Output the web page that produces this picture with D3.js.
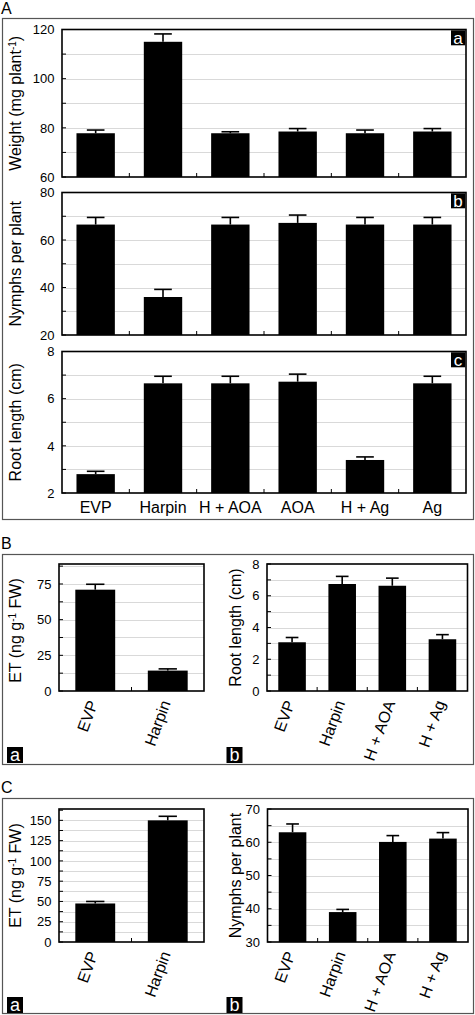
<!DOCTYPE html>
<html><head><meta charset="utf-8">
<script src="https://cdn.jsdelivr.net/npm/d3@7"></script>
<style>
body{margin:0;background:#fff;}
text{font-family:"Liberation Sans",Arial,Helvetica,sans-serif;}
</style></head><body>
<svg id="chart" width="475" height="1015"></svg>
<script>
// ---------- DATA ----------
const catsA = ["EVP", "Harpin", "H + AOA", "AOA", "H + Ag", "Ag"];
const weightMean = [77.8, 115, 77.8, 78.5, 77.8, 78.5];
const weightErr  = [1.3, 3.2, 0.6, 1.2, 1.3, 1.2];
const weightTicks = [60, 80, 100, 120];

const nymphsAMean = [66.5, 36, 66.5, 67.2, 66.5, 66.5];
const nymphsAErr  = [3, 3.2, 3, 3.3, 3, 3];
const nymphsATicks = [20, 40, 60, 80];

const rootAMean = [2.8, 6.65, 6.65, 6.72, 3.4, 6.65];
const rootAErr  = [0.12, 0.3, 0.3, 0.32, 0.13, 0.3];
const rootATicks = [2, 4, 6, 8];

const catsET = ["EVP", "Harpin"];
const etBMean = [71, 14.3];
const etBErr  = [3.8, 1.2];
const etBTicks = [0, 25, 50, 75];

const catsB = ["EVP", "Harpin", "H + AOA", "H + Ag"];
const rootBMean = [3.07, 6.74, 6.63, 3.26];
const rootBErr  = [0.3, 0.48, 0.48, 0.29];
const rootBTicks = [0, 2, 4, 6, 8];

const etCMean = [47.5, 150];
const etCErr  = [2.5, 5];
const etCTicks = [0, 25, 50, 75, 100, 125, 150];

const nymphsCMean = [63, 39, 60.1, 61.1];
const nymphsCErr  = [2.5, 0.8, 1.9, 1.8];
const nymphsCTicks = [30, 40, 50, 60, 70];

// ---------- DRAWING ----------
const svg = d3.select("#chart");
svg.append("rect").attr("width", 475).attr("height", 1015).attr("fill", "#fff");

const panels = [
  {label: "A", y0: 18.5, y1: 519.5, ly: 14},
  {label: "B", y0: 554.5, y1: 764.5, ly: 548.5},
  {label: "C", y0: 798.5, y1: 1013.5, ly: 793}
];
panels.forEach(p => {
  svg.append("rect").attr("x", 2.5).attr("y", p.y0).attr("width", 471).attr("height", p.y1 - p.y0)
    .attr("fill", "none").attr("stroke", "#555").attr("stroke-width", 1.2);
  svg.append("text").attr("x", 1).attr("y", p.ly).attr("font-size", 16).attr("fill", "#000").text(p.label);
});

function letterBox(x, y, w, h, ch, fs) {
  svg.append("rect").attr("x", x).attr("y", y).attr("width", w).attr("height", h).attr("fill", "#000");
  svg.append("text").attr("x", x + w / 2).attr("y", y + h / 2).attr("dy", "0.36em")
    .attr("text-anchor", "middle").attr("font-size", fs).attr("fill", "#fff").text(ch);
}

function drawPlot(o) {
  const g = svg.append("g");
  const x = d3.scaleBand().domain(o.cats).range([o.left, o.right])
    .paddingInner(o.pad).paddingOuter(o.pad / 2);
  const y = d3.scaleLinear().domain(o.domain).range([o.bottom, o.top]);
  const minor = d3.range(o.domain[0], o.domain[1] + 1e-9, o.minorStep);

  // gridlines
  g.append("g").selectAll("line")
    .data(minor.filter(v => v > o.domain[0] && y(v) > o.top + 1.5))
    .join("line")
    .attr("x1", o.left).attr("x2", o.right)
    .attr("y1", d => Math.round(y(d)) + 0.5).attr("y2", d => Math.round(y(d)) + 0.5)
    .attr("stroke", "#d9d9d9").attr("stroke-width", 1);

  // inward ticks on y axis
  g.append("g").selectAll("line").data(minor).join("line")
    .attr("x1", o.left).attr("x2", o.left + 4)
    .attr("y1", d => y(d)).attr("y2", d => y(d))
    .attr("stroke", "#000").attr("stroke-width", 1);

  // bars
  const bw = x.bandwidth();
  g.append("g").selectAll("rect").data(o.cats).join("rect")
    .attr("x", d => x(d)).attr("width", bw)
    .attr("y", (d, i) => y(o.mean[i]))
    .attr("height", (d, i) => o.bottom - y(o.mean[i]))
    .attr("fill", "#000");

  // error bars (upper only)
  const eg = g.append("g").attr("stroke", "#000").attr("stroke-width", 1.6);
  o.cats.forEach((c, i) => {
    const cx = x(c) + bw / 2;
    const yt = y(o.mean[i] + o.err[i]);
    eg.append("line").attr("x1", cx).attr("x2", cx).attr("y1", y(o.mean[i])).attr("y2", yt);
    eg.append("line").attr("x1", cx - bw * 0.23).attr("x2", cx + bw * 0.23).attr("y1", yt).attr("y2", yt);
  });

  // x boundary ticks
  g.append("g").selectAll("line").data(d3.range(1, o.cats.length)).join("line")
    .attr("x1", i => o.left + i * x.step()).attr("x2", i => o.left + i * x.step())
    .attr("y1", o.bottom).attr("y2", o.bottom - 4)
    .attr("stroke", "#000").attr("stroke-width", 1);

  // frame
  g.append("rect").attr("x", o.left).attr("y", o.top)
    .attr("width", o.right - o.left).attr("height", o.bottom - o.top)
    .attr("fill", "none").attr("stroke", "#000").attr("stroke-width", 1.6);

  // y labels
  const ya = g.append("g").attr("transform", `translate(${o.left},0)`)
    .call(d3.axisLeft(y).tickValues(o.ticks).tickFormat(d3.format("d")).tickSize(0).tickPadding(7.5));
  ya.select(".domain").remove();
  ya.selectAll("text").attr("font-size", 13).attr("fill", "#000");

  // x labels
  if (o.showX) {
    const xa = g.append("g").attr("transform", `translate(0,${o.bottom})`)
      .call(d3.axisBottom(x).tickSize(0).tickPadding(8.5));
    xa.select(".domain").remove();
    const xt = xa.selectAll("text").attr("font-size", 16).attr("fill", "#000");
    if (o.rotate) {
      xt.attr("y", 0).attr("dy", "0").attr("text-anchor", "end")
        .attr("transform", "translate(3,12) rotate(-70)");
    }
  }

  // y title
  const ty = (o.top + o.bottom) / 2 + (o.titleShift || 0);
  const t = g.append("text").attr("font-size", 16).attr("fill", "#000")
    .attr("text-anchor", "middle")
    .attr("transform", `translate(${o.titleX},${ty}) rotate(-90)`);
  o.title.forEach(part => {
    const ts = t.append("tspan").text(part.t);
    if (part.sup) ts.attr("font-size", 10).attr("baseline-shift", "super");
  });

  // letter box
  if (o.letterTR) letterBox(o.right - 15, o.top + 0.8, 14.2, 15, o.letterTR, 17);
}

// Panel A
drawPlot({cats: catsA, mean: weightMean, err: weightErr, ticks: weightTicks, domain: [60, 120], minorStep: 10,
  left: 62, right: 466, top: 29.5, bottom: 177, pad: 0.43, titleX: 21,
  title: [{t: "Weight (mg plant"}, {t: "-1", sup: true}, {t: ")"}], letterTR: "a", showX: false});
drawPlot({cats: catsA, mean: nymphsAMean, err: nymphsAErr, ticks: nymphsATicks, domain: [20, 80], minorStep: 10,
  left: 62, right: 466, top: 192.5, bottom: 335, pad: 0.43, titleX: 21,
  title: [{t: "Nymphs per plant"}], letterTR: "b", showX: false});
drawPlot({cats: catsA, mean: rootAMean, err: rootAErr, ticks: rootATicks, domain: [2, 8], minorStep: 1,
  left: 62, right: 466, top: 351.5, bottom: 493, pad: 0.43, titleX: 21,
  title: [{t: "Root length (cm)"}], letterTR: "c", showX: true, rotate: false});

// Panel B
drawPlot({cats: catsET, mean: etBMean, err: etBErr, ticks: etBTicks, domain: [0, 89], minorStep: 12.5,
  left: 59, right: 204, top: 564, bottom: 691, pad: 0.45, titleX: 21, titleShift: 3,
  title: [{t: "ET (ng g"}, {t: "-1", sup: true}, {t: " FW)"}], showX: true, rotate: true});
drawPlot({cats: catsB, mean: rootBMean, err: rootBErr, ticks: rootBTicks, domain: [0, 8], minorStep: 1,
  left: 267, right: 467.5, top: 564, bottom: 691, pad: 0.45, titleX: 241,
  title: [{t: "Root length (cm)"}], showX: true, rotate: true});
letterBox(7, 747, 16, 16, "a", 18);
letterBox(226.5, 747, 16, 16, "b", 18);

// Panel C
drawPlot({cats: catsET, mean: etCMean, err: etCErr, ticks: etCTicks, domain: [0, 164], minorStep: 12.5,
  left: 59, right: 204, top: 809, bottom: 942, pad: 0.45, titleX: 21,
  title: [{t: "ET (ng g"}, {t: "-1", sup: true}, {t: " FW)"}], showX: true, rotate: true});
drawPlot({cats: catsB, mean: nymphsCMean, err: nymphsCErr, ticks: nymphsCTicks, domain: [30, 70], minorStep: 5,
  left: 267.5, right: 468, top: 809, bottom: 942, pad: 0.45, titleX: 241,
  title: [{t: "Nymphs per plant"}], showX: true, rotate: true});
letterBox(7, 997, 16, 16, "a", 18);
letterBox(226.5, 997, 16, 16, "b", 18);
</script>
</body></html>
